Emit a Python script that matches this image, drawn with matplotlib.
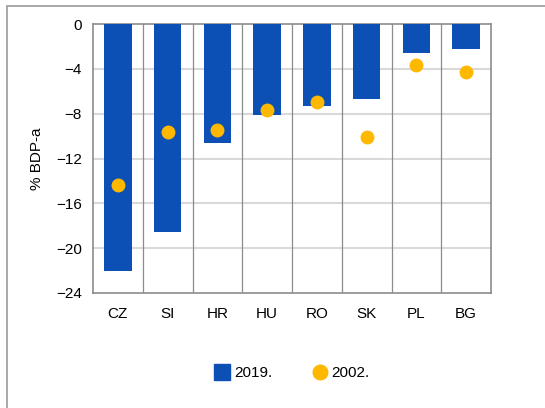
import matplotlib
matplotlib.use("Agg")
import matplotlib.pyplot as plt
from matplotlib.patches import Rectangle
from matplotlib.lines import Line2D
import numpy as np

plt.rcParams['font.family'] = ['Liberation Sans', 'DejaVu Sans']
plt.rcParams['axes.unicode_minus'] = True

countries = ["CZ", "SI", "HR", "HU", "RO", "SK", "PL", "BG"]
values_2019 = [-22.0, -18.6, -10.6, -8.1, -7.3, -6.7, -2.55, -2.25]
values_2002 = [-14.4, -9.65, -9.45, -7.7, -7.0, -10.1, -3.7, -4.3]
y_ticks = [0, -4, -8, -12, -16, -20, -24]

bar_color = "#0d50b5"
dot_color = "#ffb800"

fig = plt.figure(figsize=(5.45, 4.08), dpi=100)
ax = fig.add_axes([93/545, 1 - 293/408, 398/545, 269/408])

# outer frame around the whole chart
frame = Rectangle((7/545, -0.05), 1.2, 1.05 - 6/408, transform=fig.transFigure,
                  fill=False, edgecolor="#9a9a9a", linewidth=1.2, clip_on=False)
fig.patches.append(frame)

x = np.arange(len(countries))
ax.bar(x, values_2019, width=0.55, color=bar_color, zorder=3)
ax.scatter(x, values_2002, s=100, color=dot_color, zorder=4, linewidths=0)

ax.set_xlim(-0.5, len(countries) - 0.5)
ax.set_ylim(-24, 0)
ax.set_yticks(y_ticks)
ax.set_yticklabels([f"{t}".replace("-", "\u2212") for t in y_ticks])
ax.set_xticks(x)
ax.set_xticklabels(countries)

# light horizontal gridlines
for t in y_ticks[1:-1]:
    ax.axhline(t, color="#d9d9d9", linewidth=1.5, zorder=1)
# category separators
for b in np.arange(0.5, len(countries) - 0.5, 1.0):
    ax.axvline(b, color="#8c8c8c", linewidth=0.9, zorder=2)

for s in ax.spines.values():
    s.set_color("#8c8c8c")
    s.set_linewidth(1.2)

fs = 11
ax.tick_params(axis="y", length=0, pad=8, labelsize=fs)
ax.tick_params(axis="x", length=0, pad=10, labelsize=fs)
ax.set_ylabel("% BDP-a", fontsize=fs)
ax.yaxis.set_label_coords(-0.123, 0.5)

handles = [
    Line2D([], [], marker="s", linestyle="none", markersize=12, color=bar_color),
    Line2D([], [], marker="o", linestyle="none", markersize=10.5, color=dot_color),
]
fig.legend(handles, ["2019.", "2002."], loc="center", ncol=2, frameon=False,
           bbox_to_anchor=(292/545, 1 - 373/408), fontsize=fs,
           handletextpad=0.3, columnspacing=2.6, handlelength=1.0)

fig.savefig("out.png", dpi=100)
